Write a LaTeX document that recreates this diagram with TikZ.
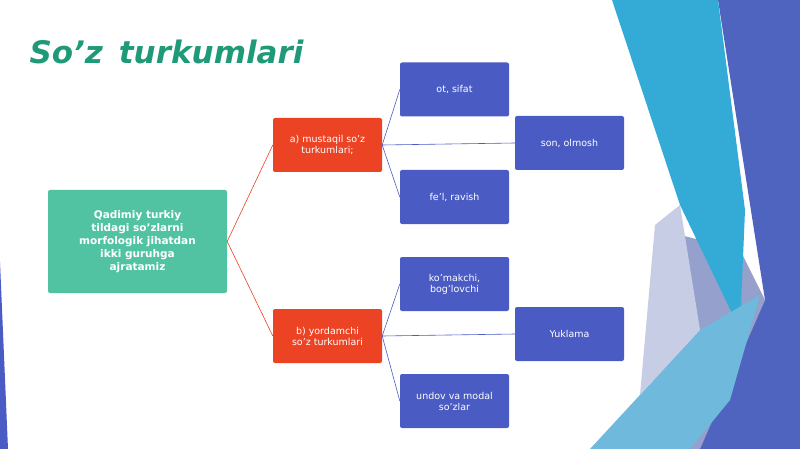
\documentclass[tikz,border=0pt]{standalone}
\usepackage{fontspec}
\setmainfont{DejaVu Sans}
\begin{document}
\begin{tikzpicture}[x=1pt,y=-1pt,
  box/.style={rounded corners=2pt,minimum width=109pt,align=center,text=white,font=\fontsize{9.5}{11}\selectfont,inner sep=1pt},
  bluebox/.style={box,fill=blue1,minimum height=54pt},
  redbox/.style={box,fill=red1,minimum height=54pt},
  blink/.style={draw=blue1,line width=0.6pt},
  rlink/.style={draw=red1,line width=0.6pt}]
\definecolor{blue1}{HTML}{4A5CC4}
\definecolor{red1}{HTML}{EC4324}
\definecolor{teal1}{HTML}{52C3A2}
\definecolor{title1}{HTML}{1E9A78}
\useasboundingbox (0,0) rectangle (800,449);
\fill[white] (0,0) rectangle (800,449);
% background decoration
\fill[color={rgb,255:red,78;green,100;blue,190}] (718,0) -- (800,0) -- (800,449) -- (690,449) -- (765,300) -- cycle;
\fill[color={rgb,255:red,150;green,160;blue,205}] (660,230) -- (740,250) -- (765,300) -- (700,449) -- (650,449) -- cycle;
\fill[color={rgb,255:red,52;green,170;blue,215}] (612,0) -- (718,0) -- (745,210) -- (740,330) -- (680,205) -- cycle;
\fill[color={rgb,255:red,110;green,185;blue,220}] (590,449) -- (700,330) -- (760,295) -- (730,400) -- (690,449) -- cycle;
\fill[color={rgb,255:red,200;green,205;blue,230}] (655,225) -- (680,205) -- (700,330) -- (640,395) -- cycle;
\fill[blue1] (0,262) -- (8,449) -- (0,449) -- cycle;
% title
\node[anchor=west,text=title1,font=\fontsize{31}{34}\selectfont\bfseries\itshape] (title) at (26,52) {So’z\,\ turkumlari};
% nodes
\node[box,fill=teal1,minimum width=179pt,minimum height=103pt,font=\fontsize{10.5}{13}\selectfont\bfseries] (main) at (137.5,241.5) {Qadimiy turkiy\\tildagi so’zlarni\\morfologik jihatdan\\ikki guruhga\\ajratamiz};
\node[redbox] (a) at (327.5,145) {a) mustaqil so’z\\turkumlari;};
\node[redbox] (b) at (327.5,336) {b) yordamchi\\so’z turkumlari};
\node[bluebox] (a1) at (454.5,89.5) {ot, sifat};
\node[bluebox] (a2) at (569.5,143) {son, olmosh};
\node[bluebox] (a3) at (454.5,197) {fe’l, ravish};
\node[bluebox] (b1) at (454.5,284) {ko’makchi,\\bog’lovchi};
\node[bluebox] (b2) at (569.5,334) {Yuklama};
\node[bluebox] (b3) at (454.5,401) {undov va modal\\so’zlar};
% connectors
\draw[rlink] (main.east) -- (a.west);
\draw[rlink] (main.east) -- (b.west);
\foreach \t in {a1,a2,a3} \draw[blink] (a.east) -- (\t.west);
\foreach \t in {b1,b2,b3} \draw[blink] (b.east) -- (\t.west);
\end{tikzpicture}
\end{document}
